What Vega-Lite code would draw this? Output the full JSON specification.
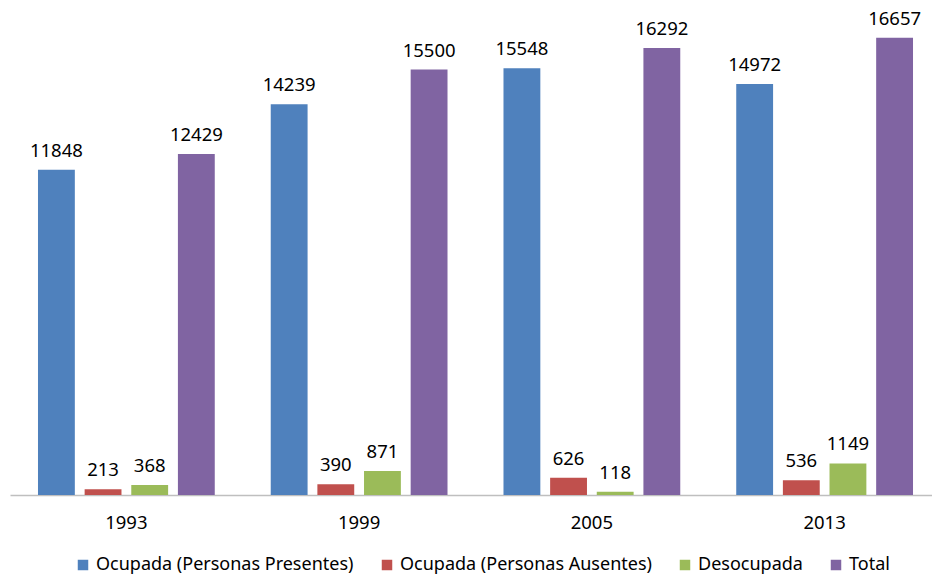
{
  "$schema": "https://vega.github.io/schema/vega-lite/v6.json",
  "autosize": {"type": "none"},
  "width": 931,
  "height": 494,
  "padding": {"left": 10, "top": 1, "right": 0, "bottom": 81},
  "background": "white",
  "config": {"view": {"stroke": null}, "font": "Noto Sans"},
  "data": {
    "values": [
      {"year": "1993", "serie": "Ocupada (Personas Presentes)", "valor": 11848},
      {"year": "1993", "serie": "Ocupada (Personas Ausentes)", "valor": 213},
      {"year": "1993", "serie": "Desocupada", "valor": 368},
      {"year": "1993", "serie": "Total", "valor": 12429},
      {"year": "1999", "serie": "Ocupada (Personas Presentes)", "valor": 14239},
      {"year": "1999", "serie": "Ocupada (Personas Ausentes)", "valor": 390},
      {"year": "1999", "serie": "Desocupada", "valor": 871},
      {"year": "1999", "serie": "Total", "valor": 15500},
      {"year": "2005", "serie": "Ocupada (Personas Presentes)", "valor": 15548},
      {"year": "2005", "serie": "Ocupada (Personas Ausentes)", "valor": 626},
      {"year": "2005", "serie": "Desocupada", "valor": 118},
      {"year": "2005", "serie": "Total", "valor": 16292},
      {"year": "2013", "serie": "Ocupada (Personas Presentes)", "valor": 14972},
      {"year": "2013", "serie": "Ocupada (Personas Ausentes)", "valor": 536},
      {"year": "2013", "serie": "Desocupada", "valor": 1149},
      {"year": "2013", "serie": "Total", "valor": 16657}
    ]
  },
  "encoding": {
    "x": {
      "field": "year", "type": "nominal", "sort": null,
      "scale": {"paddingInner": 0, "paddingOuter": 0},
      "axis": {"title": null, "labelAngle": 0, "ticks": false, "tickSize": 0, "domainColor": "#BFBFBF", "domainWidth": 1.5,
               "labelFontSize": 18.5, "labelPadding": 33, "labelBaseline": "alphabetic", "labelColor": "#000000", "grid": false}
    },
    "xOffset": {
      "field": "serie", "type": "nominal",
      "sort": ["Ocupada (Personas Presentes)", "Ocupada (Personas Ausentes)", "Desocupada", "Total"],
      "scale": {"paddingInner": 0.21, "paddingOuter": 0.6}
    },
    "y": {"field": "valor", "type": "quantitative", "scale": {"domain": [0, 18000]}, "axis": null}
  },
  "layer": [
    {
      "mark": {"type": "bar"},
      "encoding": {
        "color": {
          "field": "serie", "type": "nominal",
          "sort": ["Ocupada (Personas Presentes)", "Ocupada (Personas Ausentes)", "Desocupada", "Total"],
          "scale": {"domain": ["Ocupada (Personas Presentes)", "Ocupada (Personas Ausentes)", "Desocupada", "Total"],
                    "range": ["#4F81BD", "#C0504D", "#9BBB59", "#8064A2"]},
          "legend": {
            "title": null, "orient": "none", "legendX": 64, "legendY": 555, "direction": "horizontal",
            "symbolType": "square", "symbolSize": 110, "symbolStrokeWidth": 0,
            "labelFontSize": 18, "labelColor": "#000000", "labelOffset": 4, "columnPadding": 24,
            "labelLimit": 400
          }
        }
      }
    },
    {
      "mark": {"type": "text", "baseline": "alphabetic", "dy": -13, "fontSize": 18.5, "color": "#000000"},
      "encoding": {"text": {"field": "valor", "type": "quantitative", "format": "d"}}
    }
  ]
}
